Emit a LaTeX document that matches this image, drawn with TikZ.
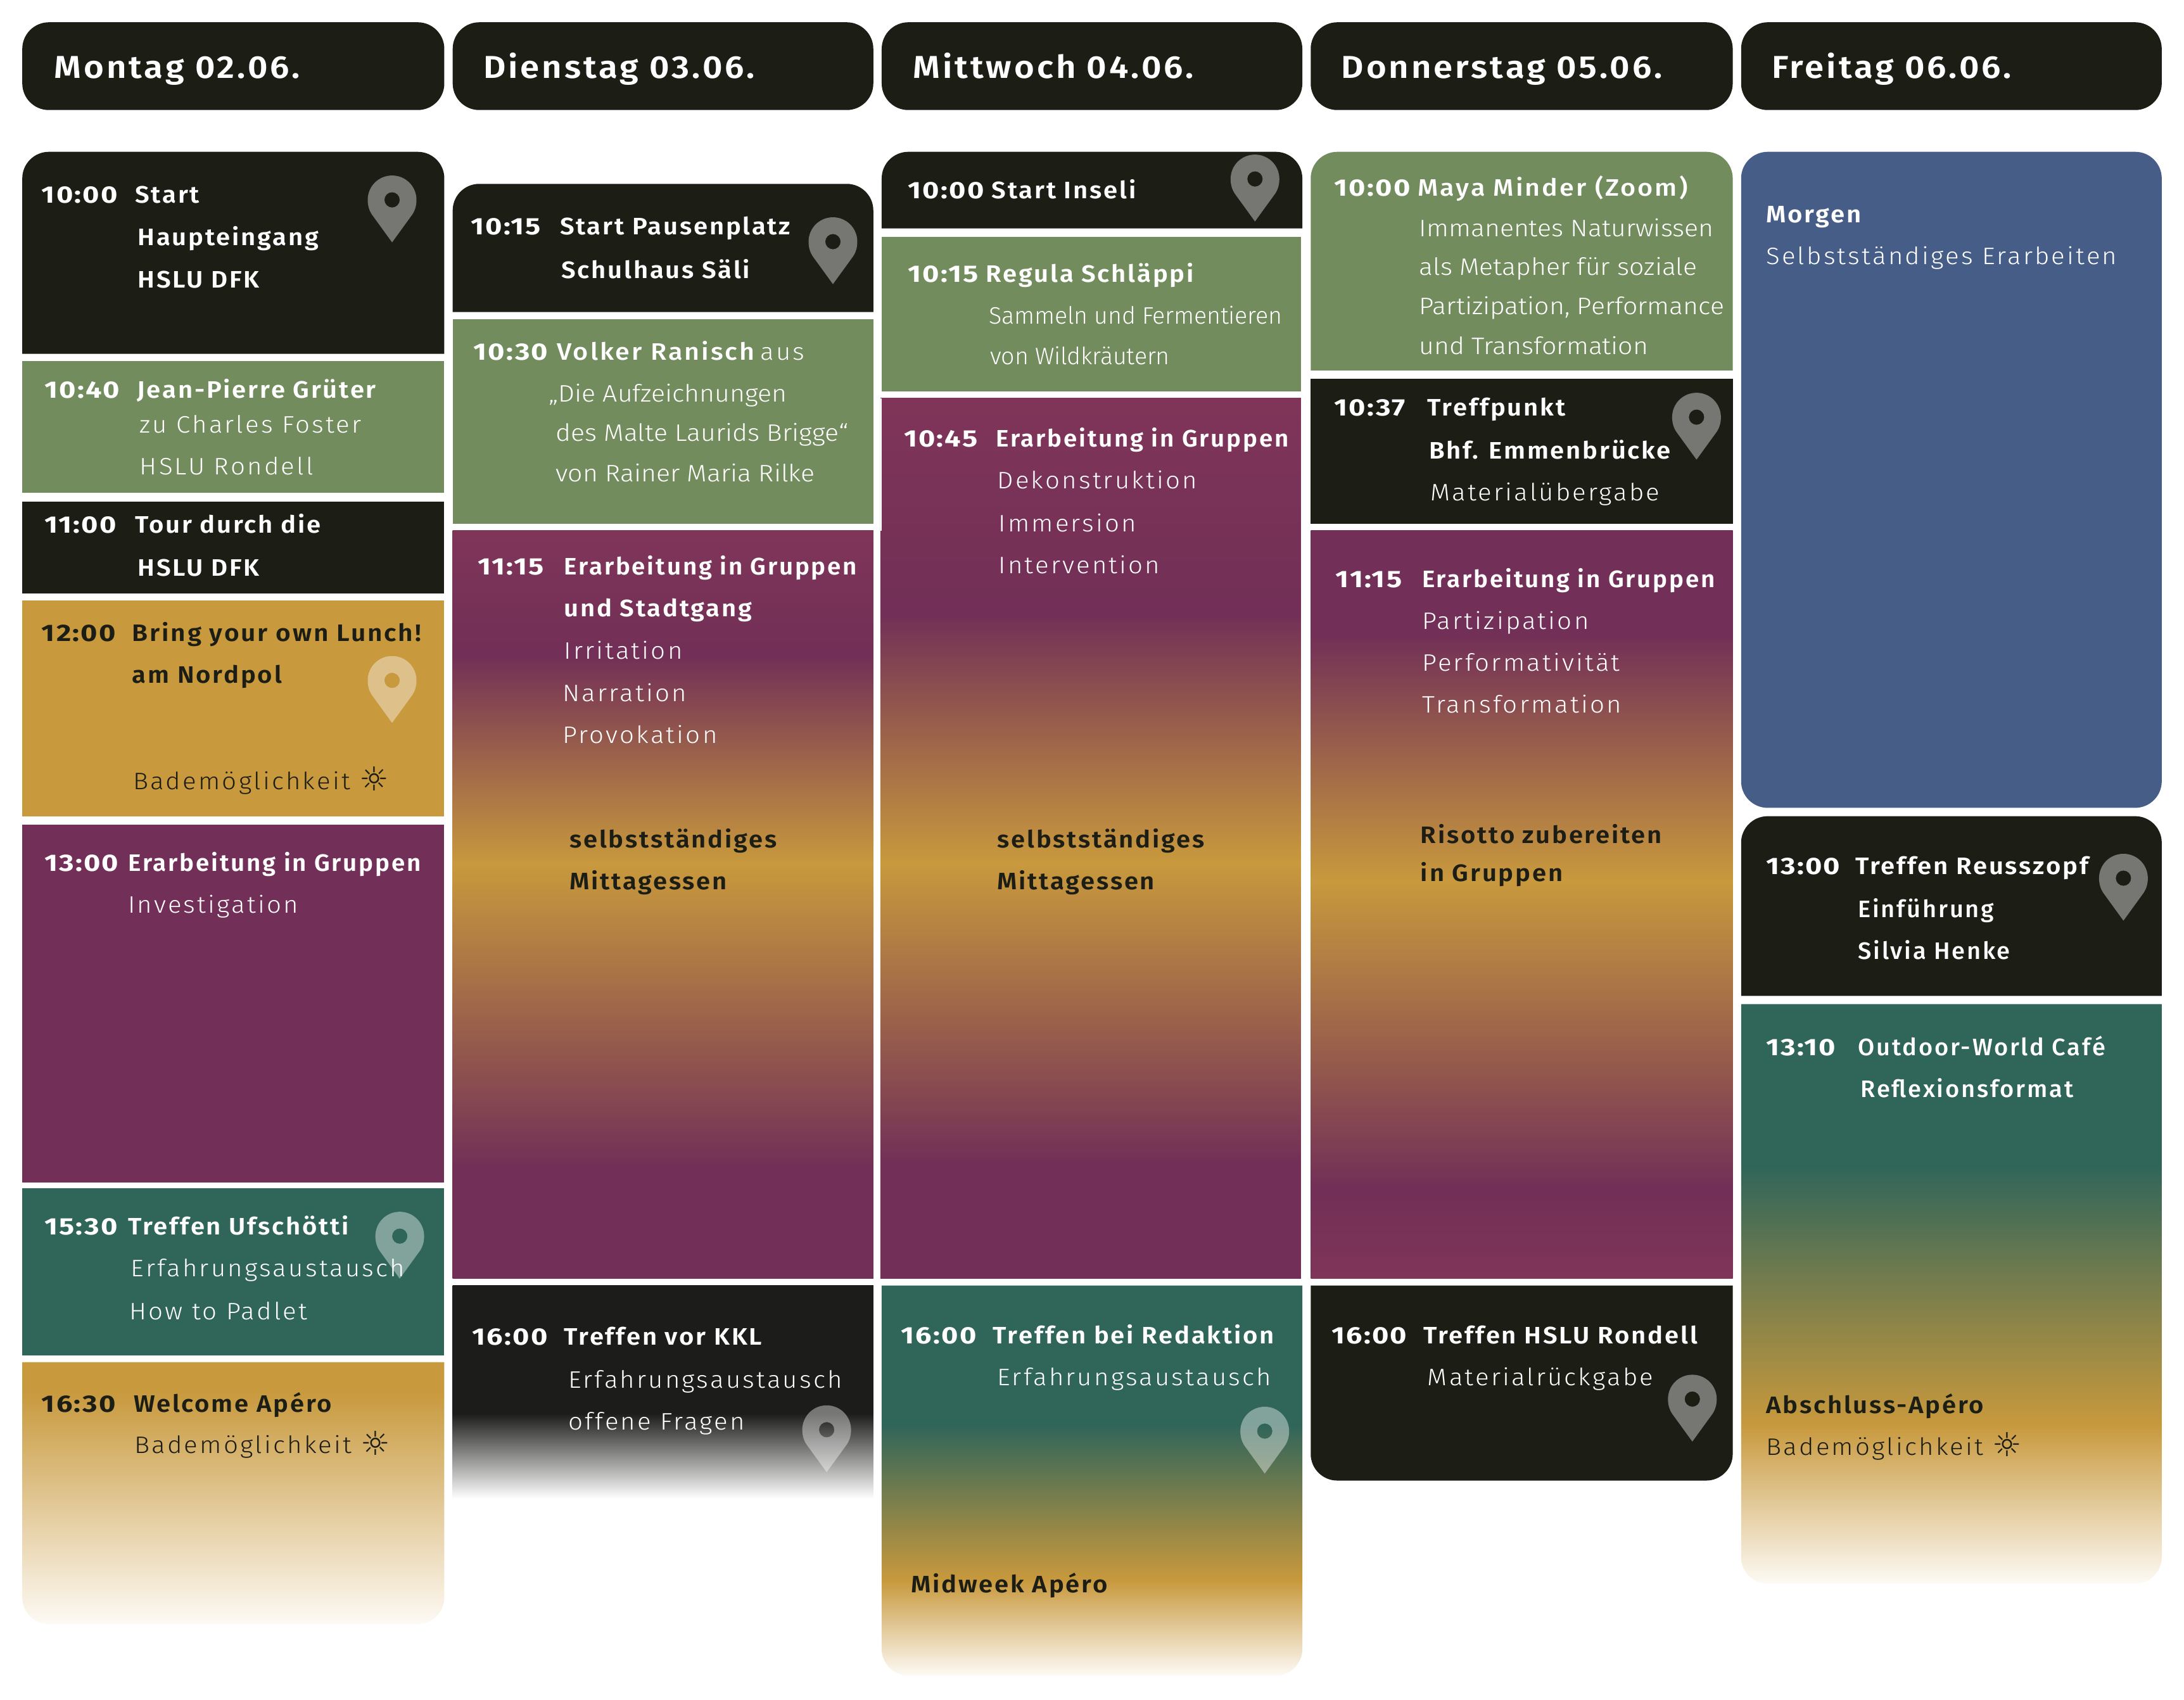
\documentclass[tikz,border=0pt]{standalone}
\usepackage{fontspec}
\setmainfont{Fira Sans}
\newfontfamily\hfont[LetterSpace=8,FakeStretch=1.09]{Fira Sans SemiBold}
\newfontfamily\bfont[LetterSpace=7.5,FakeStretch=1.065]{Fira Sans SemiBold}
\newfontfamily\efont[LetterSpace=7.5,FakeStretch=1.025]{Fira Sans SemiBold}
\newfontfamily\wfont[LetterSpace=7.5,FakeStretch=1.08]{Fira Sans SemiBold}
\newfontfamily\timefont[LetterSpace=6,FakeStretch=1.2]{Fira Sans Bold}
\newfontfamily\mfont[LetterSpace=7.5,FakeStretch=1.01]{Fira Sans Medium}
\newfontfamily\vfont[LetterSpace=8,FakeStretch=1.1]{Fira Sans Medium}
\newfontfamily\lfont[LetterSpace=8.5,FakeStretch=1.07]{Fira Sans Light}
\newfontfamily\tfont[LetterSpace=0,FakeStretch=1.09]{Fira Sans Light}
\newfontfamily\nfont[LetterSpace=-0.5]{Fira Sans Light}
\newfontfamily\sunfont{DejaVu Sans}
\definecolor{ink}{HTML}{1C1D14}
\definecolor{grn}{HTML}{738C5E}
\definecolor{pur}{HTML}{722F57}
\definecolor{pul}{HTML}{7F3558}
\definecolor{tea}{HTML}{30655A}
\definecolor{och}{HTML}{C8993D}
\definecolor{blu}{HTML}{465D87}
\definecolor{drk}{HTML}{1C1C1A}
\definecolor{fadeend}{HTML}{FDFAF5}
\pgfdeclareverticalshading{gM}{100bp}{color(0bp)=(pur); color(32.4bp)=(pur); color(52.7bp)=(och); color(66.7bp)=(pur); color(75bp)=(pul); color(100bp)=(pul)}
\pgfdeclareverticalshading{gC}{100bp}{color(0bp)=(pur); color(29bp)=(pur); color(31.5bp)=(pur); color(48.6bp)=(och); color(62.8bp)=(pur); color(75bp)=(pul); color(100bp)=(pul)}
\pgfdeclareverticalshading{gD}{100bp}{color(0bp)=(pul); color(25bp)=(pul); color(31bp)=(pur); color(51.6bp)=(och); color(68.1bp)=(pur); color(100bp)=(pur)}
\pgfdeclareverticalshading{gOW}{100bp}{color(0bp)=(fadeend); color(25bp)=(fadeend); color(69.5bp)=(och); color(100bp)=(och)}
\pgfdeclareverticalshading{gKW}{100bp}{color(0bp)=(white); color(25bp)=(white); color(45bp)=(drk); color(100bp)=(drk)}
\pgfdeclareverticalshading{gTW3}{100bp}{color(0bp)=(fadeend); color(25bp)=(fadeend); color(37.2bp)=(och); color(57.2bp)=(tea); color(100bp)=(tea)}
\pgfdeclareverticalshading{gTW5}{100bp}{color(0bp)=(fadeend); color(25bp)=(fadeend); color(38.7bp)=(och); color(61.1bp)=(tea); color(100bp)=(tea)}
\newcounter{tn}
\tikzset{
  txt/.style={anchor=base west,inner sep=0pt,outer sep=0pt,yshift=-0.35pt},
  pinmark/.style={fill=white,opacity=.4,even odd rule},
  boxfill/.style={draw=none}
}
\newcommand{\bS}[5]{\path[boxfill,#5] (#1,#3) rectangle (#2,#4);}
\newcommand{\bT}[5]{\path[boxfill,#5] (#1,#4) [rounded corners=10.5pt] -- (#1,#3) -- (#2,#3) [sharp corners] -- (#2,#4) -- cycle;}
\newcommand{\bB}[5]{\path[boxfill,#5] (#1,#3) [rounded corners=10.5pt] -- (#1,#4) -- (#2,#4) [sharp corners] -- (#2,#3) -- cycle;}
\newcommand{\bR}[5]{\path[boxfill,#5,rounded corners=10.5pt] (#1,#3) rectangle (#2,#4);}
\newcommand{\pin}[2]{\path[pinmark] (#1,#2+48) -- (#1-14.5,#2+28)
  .. controls (#1-16.5,#2+25) and (#1-17.5,#2+21.5) .. (#1-17.5,#2+17.5)
  .. controls (#1-17.5,#2+7.8) and (#1-9.7,#2) .. (#1,#2)
  .. controls (#1+9.7,#2) and (#1+17.5,#2+7.8) .. (#1+17.5,#2+17.5)
  .. controls (#1+17.5,#2+21.5) and (#1+16.5,#2+25) .. (#1+14.5,#2+28) -- cycle
  (#1,#2+17.5) circle[radius=5.5];}
\newcommand{\hd}[3]{\stepcounter{tn}\node[txt,text=white] (t\thetn) at (#1,#2) {\fontsize{12.5}{14}\hfont #3};}
\newcommand{\tmw}[3]{\stepcounter{tn}\node[txt,text=white] (t\thetn) at (#1,#2) {\fontsize{9.4}{11}\timefont #3};}
\newcommand{\tmk}[3]{\stepcounter{tn}\node[txt,text=ink] (t\thetn) at (#1,#2) {\fontsize{9.4}{11}\timefont #3};}
\newcommand{\bw}[3]{\stepcounter{tn}\node[txt,text=white] (t\thetn) at (#1,#2) {\fontsize{9.4}{11}\bfont #3};}
\newcommand{\ew}[3]{\stepcounter{tn}\node[txt,text=white] (t\thetn) at (#1,#2) {\fontsize{9.4}{11}\efont #3};}
\newcommand{\bk}[3]{\stepcounter{tn}\node[txt,text=ink] (t\thetn) at (#1,#2) {\fontsize{9.4}{11}\bfont #3};}
\newcommand{\wk}[3]{\stepcounter{tn}\node[txt,text=ink] (t\thetn) at (#1,#2) {\fontsize{9.4}{11}\wfont #3};}
\newcommand{\mw}[3]{\stepcounter{tn}\node[txt,text=white] (t\thetn) at (#1,#2) {\fontsize{9.4}{11}\mfont #3};}
\newcommand{\vw}[3]{\stepcounter{tn}\node[txt,text=white] (t\thetn) at (#1,#2) {\fontsize{9.4}{11}\vfont #3};}
\newcommand{\lw}[3]{\stepcounter{tn}\node[txt,text=white] (t\thetn) at (#1,#2) {\fontsize{9.4}{11}\lfont #3};}
\newcommand{\lk}[3]{\stepcounter{tn}\node[txt,text=ink] (t\thetn) at (#1,#2) {\fontsize{9.4}{11}\lfont #3};}
\newcommand{\tw}[3]{\stepcounter{tn}\node[txt,text=white] (t\thetn) at (#1,#2) {\fontsize{9.4}{11}\tfont #3};}
\newcommand{\nw}[3]{\stepcounter{tn}\node[txt,text=white] (t\thetn) at (#1,#2) {\fontsize{9.4}{11}\nfont #3};}
\newcommand{\sun}{\raisebox{-0.7pt}{\fontsize{13}{13}\sunfont\char"263C}}
\begin{document}
\begin{tikzpicture}[x=0.55pt,y=-0.55pt]
\useasboundingbox (0,0) rectangle (1568,1220.55);
% headers
\bR{16}{319}{16}{79}{fill=ink}
\bR{325}{627}{16}{79}{fill=ink}
\bR{633}{935}{16}{79}{fill=ink}
\bR{941}{1244}{16}{79}{fill=ink}
\bR{1250}{1552}{16}{79}{fill=ink}
% column 1
\bT{16}{319}{109}{254}{fill=ink}
\bS{16}{319}{259}{354}{fill=grn}
\bS{16}{319}{360}{426}{fill=ink}
\bS{16}{319}{431}{586}{fill=och}
\bS{16}{319}{592}{849}{fill=pur}
\bS{16}{319}{853}{973}{fill=tea}
\bB{16}{319}{978}{1166}{shade,shading=gOW}
% column 2
\bT{325}{627}{132}{224}{fill=ink}
\bS{325}{627}{229}{376}{fill=grn}
\bS{325}{627}{381}{918}{shade,shading=gM}
\bS{325}{627}{923}{1076}{shade,shading=gKW}
% column 3
\bT{633}{935}{109}{164}{fill=ink}
\bS{633}{934}{170}{281}{fill=grn}
\bS{632}{934}{286}{918}{shade,shading=gC}
\path[fill=white] (632,286) rectangle (633,381);
\bB{633}{935}{923}{1203}{shade,shading=gTW3}
% column 4
\bT{941}{1244}{109}{266}{fill=grn}
\bS{941}{1244}{272}{376}{fill=ink}
\bS{941}{1244}{381}{918}{shade,shading=gD}
\bB{941}{1244}{923}{1063}{fill=ink}
% column 5
\bR{1250}{1552}{109}{580}{fill=blu}
\bT{1250}{1552}{586}{715}{fill=ink}
\bB{1250}{1552}{721}{1137}{shade,shading=gTW5}
% pins
\pin{281.5}{126}\pin{281.5}{471}\pin{287}{870}
\pin{598}{156}\pin{593.5}{1009}
\pin{901}{111}\pin{908}{1010}
\pin{1218}{282}\pin{1215}{987}
\pin{1524.5}{613}
% header text
\hd{39}{55.5}{Montag 02.06.}
\hd{347}{55.5}{Dienstag 03.06.}
\hd{655.5}{55.5}{Mittwoch 04.06.}
\hd{963}{55.5}{Donnerstag 05.06.}
\hd{1272}{55.5}{Freitag 06.06.}
% column 1 text
\tmw{30}{145}{10:00}\bw{97}{145}{Start}
\bw{99}{175.6}{Haupteingang}
\bw{99}{206}{HSLU DFK}
\tmw{32}{285}{10:40}\bw{98.5}{285}{Jean-Pierre Grüter}
\lw{100.5}{310}{zu Charles Foster}
\lw{100.5}{340}{HSLU Rondell}
\tmw{32}{382}{11:00}\bw{97}{382}{Tour durch die}
\bw{99}{413}{HSLU DFK}
\tmk{30}{460}{12:00}\wk{95}{460}{Bring your own Lunch!}
\bk{95}{490}{am Nordpol}
\lk{95.5}{566}{Bademöglichkeit \sun}
\tmw{32}{625}{13:00}\ew{92}{625}{Erarbeitung in Gruppen}
\lw{92}{655}{Investigation}
\tmw{32}{886}{15:30}\bw{92}{886}{Treffen Ufschötti}
\lw{94}{916}{Erfahrungsaustausch}
\lw{93}{947}{How to Padlet}
\tmk{30}{1013}{16:30}\bk{96}{1013}{Welcome Apéro}
\lk{96.5}{1043}{Bademöglichkeit \sun}
% column 2 text
\tmw{338}{168}{10:15}\bw{402}{168}{Start Pausenplatz}
\bw{403}{199}{Schulhaus Säli}
\tmw{340}{258}{10:30}\vw{400}{258}{Volker Ranisch}\lw{546}{258}{aus}
\tw{394}{288}{„Die Aufzeichnungen}
\tw{399}{316}{des Malte Laurids Brigge“}
\tw{399}{345}{von Rainer Maria Rilke}
\tmw{343}{412}{11:15}\ew{405}{412}{Erarbeitung in Gruppen}
\bw{405}{442}{und Stadtgang}
\lw{405}{472.5}{Irritation}
\lw{404}{503}{Narration}
\lw{404}{533}{Provokation}
\bk{409}{608}{selbstständiges}
\bk{409}{638}{Mittagessen}
\tmw{339}{965}{16:00}\bw{405}{965}{Treffen vor KKL}
\lw{408}{996}{Erfahrungsaustausch}
\lw{408}{1026}{offene Fragen}
% column 3 text
\tmw{652}{142}{10:00}\bw{712}{142}{Start Inseli}
\tmw{652}{202}{10:15}\bw{708}{202}{Regula Schläppi}
\nw{710}{232}{Sammeln und Fermentieren}
\nw{711}{261}{von Wildkräutern}
\tmw{649}{320}{10:45}\ew{715}{320}{Erarbeitung in Gruppen}
\lw{716}{350}{Dekonstruktion}
\lw{717}{381}{Immersion}
\lw{717}{411}{Intervention}
\bk{716}{608}{selbstständiges}
\bk{716}{638}{Mittagessen}
\tmw{647}{964}{16:00}\bw{713}{964}{Treffen bei Redaktion}
\lw{716}{994}{Erfahrungsaustausch}
\bk{654}{1143}{Midweek Apéro}
% column 4 text
\tmw{958}{140}{10:00}\vw{1018}{140}{Maya Minder (Zoom)}
\tw{1019}{169}{Immanentes Naturwissen}
\tw{1019}{197}{als Metapher für soziale}
\tw{1019}{225}{Partizipation, Performance}
\tw{1019}{254}{und Transformation}
\tmw{958}{298}{10:37}\bw{1025}{298}{Treffpunkt}
\bw{1026}{329}{Bhf. Emmenbrücke}
\lw{1027}{359}{Materialübergabe}
\tmw{959}{421}{11:15}\ew{1021}{421}{Erarbeitung in Gruppen}
\lw{1021}{451}{Partizipation}
\lw{1021}{481}{Performativität}
\lw{1021}{511}{Transformation}
\bk{1020}{605}{Risotto zubereiten}
\bk{1020}{632}{in Gruppen}
\tmw{956}{964}{16:00}\bw{1022}{964}{Treffen HSLU Rondell}
\lw{1025}{994}{Materialrückgabe}
% column 5 text
\bw{1268}{159}{Morgen}
\lw{1268}{189}{Selbstständiges Erarbeiten}
\tmw{1268}{627}{13:00}\bw{1332}{627}{Treffen Reusszopf}
\mw{1334}{658}{Einführung}
\mw{1334}{688}{Silvia Henke}
\tmw{1268}{757}{13:10}\mw{1334}{757}{Outdoor-World Café}
\mw{1336}{787}{Reflexionsformat}
\bk{1268}{1014}{Abschluss-Apéro}
\lk{1268}{1044}{Bademöglichkeit \sun}
\end{tikzpicture}
\end{document}
